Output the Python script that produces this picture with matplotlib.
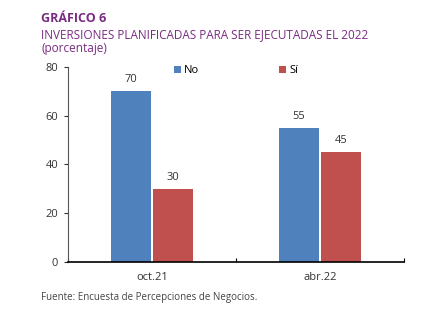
import numpy as np
import matplotlib.pyplot as plt

plt.rcParams['font.family'] = ['Open Sans', 'DejaVu Sans']

categories = ['oct.21', 'abr.22']
no_vals = [70, 55]
si_vals = [30, 45]

c_no = '#4F81BD'
c_si = '#C0504D'
purple = '#7A2B82'

fig = plt.figure(figsize=(4.38, 3.26), dpi=100)
ax = fig.add_axes([0.1553, 0.1963, 0.767, 0.5982])

x = np.arange(len(categories))
w = 0.235
ax.bar(x - 0.125, no_vals, w, color=c_no, label='No')
ax.bar(x + 0.125, si_vals, w, color=c_si, label='Sí')

for i in range(len(categories)):
    ax.text(x[i] - 0.125, no_vals[i] + 2.5, str(no_vals[i]), ha='center',
            va='bottom', fontsize=8, color='#333333')
    ax.text(x[i] + 0.125, si_vals[i] + 2.5, str(si_vals[i]), ha='center',
            va='bottom', fontsize=8, color='#333333')

ax.set_xlim(-0.5, 1.5)
ax.set_ylim(0, 80)
ax.set_yticks([0, 20, 40, 60, 80])
ax.set_xticks(x)
ax.set_xticklabels(categories)
ax.set_xticks([-0.5, 0.5, 1.5], minor=True)
ax.tick_params(axis='x', which='major', length=0, pad=7)
ax.tick_params(axis='x', which='minor', length=3, direction='in', width=0.8)
ax.tick_params(axis='y', length=3, width=0.8, pad=4)
ax.tick_params(labelsize=8, colors='#333333')
for s in ['top', 'right']:
    ax.spines[s].set_visible(False)
ax.spines['left'].set_color('#555555')
ax.spines['bottom'].set_linewidth(1.2)

# legend sits centered over the plot area
leg = ax.legend(loc='upper center', bbox_to_anchor=(0.5, 1.06), ncol=2,
                frameon=False, fontsize=8, handlelength=0.6, handleheight=0.6,
                handletextpad=0.3, columnspacing=7.2)

fig.text(0.094, 0.933, 'GRÁFICO 6', fontsize=9, fontweight='bold', color=purple)
fig.text(0.094, 0.882, 'INVERSIONES PLANIFICADAS PARA SER EJECUTADAS EL 2022',
         fontsize=8.5, color=purple)
fig.text(0.094, 0.841, '(porcentaje)', fontsize=8.5, color=purple)
fig.text(0.094, 0.08, 'Fuente: Encuesta de Percepciones de Negocios.',
         fontsize=7, color='#444444')

fig.savefig('out.png', dpi=100)
